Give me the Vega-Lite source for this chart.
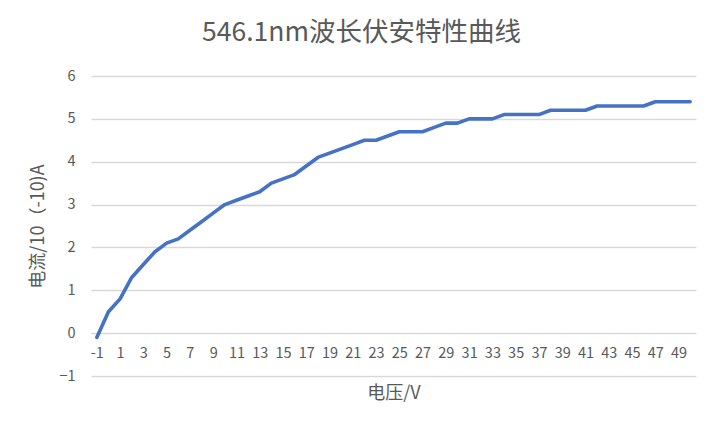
{
  "$schema": "https://vega.github.io/schema/vega-lite/v6.json",
  "autosize": "none",
  "width": 605,
  "height": 300,
  "padding": {"left": 91, "top": 76, "right": 27, "bottom": 55},
  "background": "white",
  "title": {
    "text": "546.1nm波长伏安特性曲线",
    "fontSize": 26.5,
    "font": "Noto Sans CJK SC",
    "fontWeight": "normal",
    "color": "#595959",
    "anchor": "middle",
    "dx": -32,
    "offset": 22
  },
  "data": {
    "values": [
      {"v": -1, "i": -0.1}, {"v": 0, "i": 0.5}, {"v": 1, "i": 0.8}, {"v": 2, "i": 1.3},
      {"v": 3, "i": 1.6}, {"v": 4, "i": 1.9}, {"v": 5, "i": 2.1}, {"v": 6, "i": 2.2},
      {"v": 7, "i": 2.4}, {"v": 8, "i": 2.6}, {"v": 9, "i": 2.8}, {"v": 10, "i": 3.0},
      {"v": 11, "i": 3.1}, {"v": 12, "i": 3.2}, {"v": 13, "i": 3.3}, {"v": 14, "i": 3.5},
      {"v": 15, "i": 3.6}, {"v": 16, "i": 3.7}, {"v": 17, "i": 3.9}, {"v": 18, "i": 4.1},
      {"v": 19, "i": 4.2}, {"v": 20, "i": 4.3}, {"v": 21, "i": 4.4}, {"v": 22, "i": 4.5},
      {"v": 23, "i": 4.5}, {"v": 24, "i": 4.6}, {"v": 25, "i": 4.7}, {"v": 26, "i": 4.7},
      {"v": 27, "i": 4.7}, {"v": 28, "i": 4.8}, {"v": 29, "i": 4.9}, {"v": 30, "i": 4.9},
      {"v": 31, "i": 5.0}, {"v": 32, "i": 5.0}, {"v": 33, "i": 5.0}, {"v": 34, "i": 5.1},
      {"v": 35, "i": 5.1}, {"v": 36, "i": 5.1}, {"v": 37, "i": 5.1}, {"v": 38, "i": 5.2},
      {"v": 39, "i": 5.2}, {"v": 40, "i": 5.2}, {"v": 41, "i": 5.2}, {"v": 42, "i": 5.3},
      {"v": 43, "i": 5.3}, {"v": 44, "i": 5.3}, {"v": 45, "i": 5.3}, {"v": 46, "i": 5.3},
      {"v": 47, "i": 5.4}, {"v": 48, "i": 5.4}, {"v": 49, "i": 5.4}, {"v": 50, "i": 5.4}
    ]
  },
  "mark": {"type": "line", "color": "#4472C4", "strokeWidth": 3.6, "strokeCap": "round", "strokeJoin": "round"},
  "encoding": {
    "x": {
      "field": "v",
      "type": "ordinal",
      "sort": null,
      "scale": {"type": "point", "padding": 0.5},
      "title": "电压/V",
      "axis": {
        "values": [-1, 1, 3, 5, 7, 9, 11, 13, 15, 17, 19, 21, 23, 25, 27, 29, 31, 33, 35, 37, 39, 41, 43, 45, 47, 49],
        "labelAngle": 0,
        "domain": false,
        "ticks": false,
        "grid": false,
        "offset": -43,
        "labelPadding": 13,
        "labelFontSize": 14.5,
        "labelColor": "#595959",
        "labelFont": "Noto Sans CJK SC",
        "titleFont": "Noto Sans CJK SC",
        "titleFontSize": 18,
        "titleFontWeight": "normal",
        "titleColor": "#595959",
        "titlePadding": 25
      }
    },
    "y": {
      "field": "i",
      "type": "quantitative",
      "scale": {"domain": [-1, 6], "nice": false},
      "title": "电流/10（-10)A",
      "axis": {
        "values": [-1, 0, 1, 2, 3, 4, 5, 6],
        "domain": false,
        "ticks": false,
        "gridColor": "#D9D9D9",
        "gridWidth": 1.3,
        "labelPadding": 16,
        "labelFontSize": 14.5,
        "labelColor": "#595959",
        "labelFont": "Noto Sans CJK SC",
        "titleFont": "Noto Sans CJK SC",
        "titleFontSize": 18,
        "titleFontWeight": "normal",
        "titleColor": "#595959",
        "titlePadding": 11
      }
    }
  },
  "config": {"view": {"stroke": null}}
}
